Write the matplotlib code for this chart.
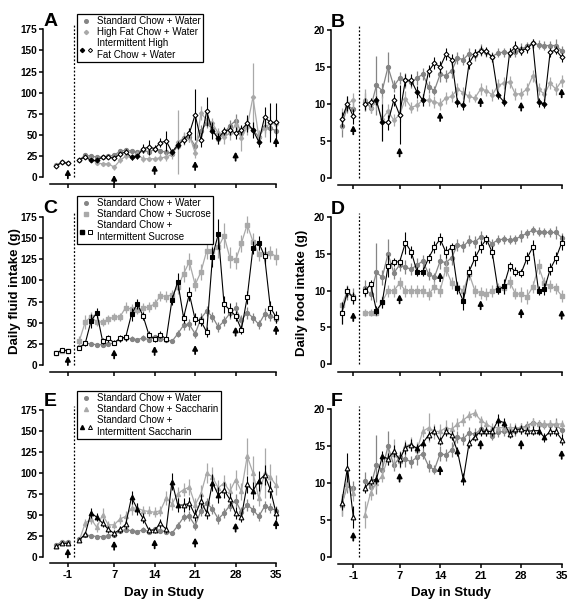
import matplotlib
matplotlib.use('Agg')
import matplotlib.pyplot as plt
from matplotlib.legend_handler import HandlerTuple
from matplotlib.lines import Line2D
import numpy as np

plt.rcParams['font.family'] = ['Liberation Sans', 'DejaVu Sans']
plt.rcParams['axes.unicode_minus'] = False

# days -3..-1 are baseline, 1..35 are the study proper
DAYS = [-3, -2, -1] + list(range(1, 36))
TICK_DAYS = [-1, 7, 14, 21, 28, 35]
ACCESS_DAYS = [3, 4, 10, 11, 17, 18, 24, 25, 31, 32]   # filled markers

# ---- fluid intake (g), left column ----
WATER_FLUID = [14, 18, 17, 21, 26, 25, 24, 24, 25, 26, 31, 32, 31, 30, 32, 30, 33,
               31, 30, 28, 37, 47, 48, 37, 55, 64, 57, 45, 52, 61, 67, 53, 62, 56,
               48, 60, 58, 55]
WATER_FLUID_ERR = [1, 2, 1, 2, 2, 2, 2, 2, 2, 2, 3, 3, 3, 2, 3, 3, 3, 3, 2, 2, 4, 5,
                   6, 5, 7, 6, 6, 6, 6, 7, 8, 6, 7, 6, 5, 7, 6, 5]

HF_FLUID = [14, 18, 17, 20, 24, 22, 17, 16, 16, 12, 20, 25, 24, 27, 22, 22, 22, 23,
            24, 27, 42, 46, 50, 29, 76, 68, 64, 52, 48, 52, 62, 46, 60, 95, 48, 58,
            64, 63]
HF_FLUID_ERR = [1, 2, 1, 2, 2, 2, 2, 2, 2, 3, 3, 3, 3, 4, 4, 3, 3, 4, 5, 5, 38, 8, 8,
                6, 8, 7, 6, 6, 8, 8, 8, 15, 10, 40, 8, 10, 8, 6]
INT_HF_FLUID = [13.8, 17.7, 16.6, 21, 24, 20, 20, 24, 24, 22.5, 27.5, 30, 23.5, 25,
                34, 35.5, 34, 41, 43, 30, 38, 44, 52, 74, 44, 78, 55, 46, 55, 56, 52,
                56, 64, 56, 42, 71, 65, 65]
INT_HF_FLUID_ERR = [1, 1, 1, 2, 2, 2, 2, 2, 2, 2, 3, 3, 3, 3, 5, 9, 4, 5, 12, 4, 5, 5,
                    6, 30, 8, 17, 10, 6, 5, 6, 7, 6, 10, 9, 6, 12, 23, 23]

SUC_FLUID = [14, 17, 17, 29, 51, 57, 51, 51, 54, 57, 57, 68, 66, 65, 67, 69, 72, 82,
             81, 83, 92, 108, 122, 95, 110, 135, 135, 139, 153, 127, 124, 144, 166,
             146, 131, 131, 133, 128]
SUC_FLUID_ERR = [1, 1, 1, 5, 8, 6, 5, 5, 5, 5, 5, 6, 6, 5, 6, 6, 6, 6, 6, 6, 8, 10,
                 10, 8, 10, 10, 10, 12, 15, 12, 10, 10, 10, 10, 8, 8, 8, 10]
INT_SUC_FLUID = [13.8, 17.7, 17, 20.5, 25.6, 52, 62, 28.4, 31.5, 26.4, 31.5, 33, 60,
                 72.5, 58, 36, 30.7, 36, 30.7, 77, 98.5, 56, 84, 54, 52, 39, 128, 155,
                 72, 65, 58, 42, 80, 138.7, 144.6, 129, 68, 56.7]
INT_SUC_FLUID_ERR = [1, 1, 1, 2, 3, 8, 6, 4, 4, 3, 4, 4, 8, 6, 5, 4, 3, 4, 3, 6, 10,
                     6, 8, 7, 6, 6, 12, 18, 10, 8, 6, 5, 8, 8, 8, 10, 8, 7]

SAC_FLUID = [13, 17, 16, 20, 40, 45, 35, 50, 38, 38, 45, 48, 58, 58, 55, 54, 53, 55,
             70, 63, 75, 80, 83, 62, 75, 100, 95, 82, 88, 78, 92, 78, 120, 100, 70,
             100, 95, 85]
SAC_FLUID_ERR = [1, 1, 1, 2, 5, 6, 5, 8, 5, 5, 6, 6, 8, 6, 6, 6, 6, 6, 8, 7, 8, 8, 10,
                 8, 10, 12, 12, 10, 10, 10, 12, 10, 22, 20, 10, 30, 15, 12]
INT_SAC_FLUID = [12.7, 16, 16, 20, 27, 52.5, 47, 40, 32.6, 27.8, 32.6, 38.6, 70.8, 57,
                 45.7, 31.8, 31.8, 39.8, 32.6, 89.5, 61.6, 61.6, 63.6, 49.7, 66.4,
                 52.5, 88.3, 73.6, 79.5, 68.4, 51.7, 47.7, 86.3, 78.7, 90.7, 97.4,
                 80.3, 51.7]
INT_SAC_FLUID_ERR = [1, 1, 1, 2, 3, 6, 5, 5, 4, 4, 4, 5, 8, 7, 6, 4, 4, 5, 4, 10, 8,
                     8, 8, 7, 8, 7, 10, 10, 10, 8, 7, 6, 10, 10, 12, 12, 10, 8]

# ---- food intake (g), right column ----
WATER_FOOD = [7, 9.7, 9.3, 10.3, 9.5, 12.5, 11.8, 15, 12.4, 13.5, 13.2, 12.9, 13.5,
              14, 12.3, 11.8, 14, 13.8, 14.5, 16.2, 16, 16.8, 16.6, 17.3, 17, 16.4,
              16.9, 17, 16.9, 17, 17.4, 17.8, 18.2, 18, 17.9, 17.9, 17.9, 17.2]
WATER_FOOD_ERR = [1.5, 1, 1, 1.2, 0.8, 4, 1, 2, 0.8, 0.8, 1, 0.8, 1, 0.8, 0.8, 0.6, 1,
                  0.8, 1, 0.8, 0.8, 0.8, 0.8, 0.8, 0.6, 0.6, 0.6, 0.6, 0.6, 0.6, 0.8,
                  0.6, 0.6, 0.6, 0.6, 0.6, 0.9, 0.6]

HF_FOOD = [8, 10, 10.5, 10.5, 9.5, 10.2, 8, 9, 7.8, 8.5, 10.7, 9.5, 9.8, 10.5, 10.5,
           10.3, 10, 10.8, 11, 12, 11.5, 11, 10.8, 12, 11.8, 11.2, 12.5, 12.8, 13,
           11.3, 11.4, 12, 13.8, 12, 11.3, 12.8, 12, 13.1]
HF_FOOD_ERR = [1.5, 1, 1, 1.5, 0.8, 1, 3, 1, 0.8, 1, 1, 0.8, 0.8, 0.8, 0.8, 0.8, 0.8,
               0.8, 0.8, 0.8, 0.8, 0.8, 0.6, 0.8, 0.8, 0.8, 0.8, 0.8, 0.8, 0.8, 0.8,
               0.8, 0.8, 0.8, 0.8, 0.8, 0.8, 0.8]
INT_HF_FOOD = [7.9, 10, 8.3, 10, 10.2, 10.5, 7.5, 7.5, 10.5, 8.5, 13.2, 13.2, 11.6,
               10.5, 14.4, 15.5, 15, 16.7, 16, 10.2, 9.8, 15.5, 16.8, 17.2, 17.1, 16.3,
               11.2, 10.3, 16.9, 17.7, 17.2, 17.5, 18.2, 10.2, 10, 17, 17.3, 16.3]
INT_HF_FOOD_ERR = [1, 1, 1, 0.8, 0.6, 0.6, 2.5, 1, 0.8, 4, 0.8, 0.8, 0.8, 0.8, 0.8,
                   0.8, 0.8, 0.8, 0.8, 0.6, 0.6, 0.8, 0.6, 0.6, 0.6, 0.6, 0.6, 0.6,
                   0.6, 0.8, 0.6, 0.6, 0.6, 0.6, 0.6, 0.6, 0.6, 0.6]

SUC_FOOD = [8, 10, 9, 7, 7, 7, 8.5, 10, 10, 11, 10, 10, 10, 10, 9.5, 10.5, 10, 13, 11,
            10.5, 10, 12.3, 10, 9.7, 9.5, 10, 10.3, 10.3, 11.2, 9.6, 9.5, 9.2, 10.5,
            13.3, 11, 10.6, 10.3, 9.3]
SUC_FOOD_ERR = [0.5, 0.8, 0.8, 0.5, 0.5, 0.5, 0.8, 0.8, 0.8, 0.8, 0.8, 0.8, 0.8, 0.8,
                0.8, 0.8, 0.8, 1, 0.8, 0.8, 0.8, 0.8, 0.8, 0.8, 0.8, 0.8, 0.8, 0.8,
                0.8, 0.8, 1, 1, 0.8, 1, 0.8, 0.8, 0.8, 0.8]
INT_SUC_FOOD = [7, 9.9, 9, 9.9, 10.9, 7.3, 8.4, 13.3, 13.9, 13.9, 16.5, 15.3, 12.6,
                12.6, 14.4, 15.9, 17, 15.2, 15.9, 10.4, 8.6, 12.6, 14.4, 15.9, 17,
                15.2, 10.1, 10.6, 13.3, 12.6, 12.4, 14.4, 15.9, 10, 10.2, 12.9, 14.4,
                16.5]
INT_SUC_FOOD_ERR = [1.5, 0.8, 0.8, 0.6, 0.6, 0.6, 0.8, 1.5, 0.6, 0.6, 1.5, 0.8, 0.6,
                    0.6, 0.6, 0.8, 0.8, 0.8, 0.6, 0.8, 1.2, 0.8, 1, 0.8, 0.6, 0.8, 0.6,
                    1, 0.6, 0.6, 0.6, 0.8, 1, 0.6, 0.8, 0.8, 0.8, 1]

SAC_FOOD = [7, 10, 8.6, 5.7, 8.7, 10, 11, 13.5, 14, 13, 15, 15.3, 14.5, 17, 17.5, 17,
            17, 17.5, 17.3, 18, 18.5, 19.2, 19.5, 18.5, 18, 17.5, 17.5, 17.5, 17.5,
            17.5, 17.5, 17.5, 18.2, 18, 18, 18, 18, 18]
SAC_FOOD_ERR = [1.5, 1, 1, 1.8, 1, 0.8, 0.8, 1, 2, 1, 0.8, 1, 1, 0.8, 2, 1, 1, 1, 1,
                0.8, 0.8, 0.6, 0.6, 0.6, 0.6, 0.6, 0.6, 0.6, 0.6, 0.6, 0.6, 0.6, 0.6,
                0.6, 0.6, 0.6, 0.6, 0.6]
INT_SAC_FOOD = [7.3, 12.1, 5.4, 9.3, 10.3, 10.5, 13.6, 13.3, 14.3, 13.2, 14.8, 15.2,
                14.7, 15.4, 16.5, 17.1, 15.7, 17, 16.5, 14.3, 10.5, 15.4, 16.3, 17, 17,
                17, 18.5, 18.2, 16.7, 17.3, 17.3, 17, 17.1, 17.1, 16.2, 17, 17, 15.9]
INT_SAC_FOOD_ERR = [1, 2, 1.5, 0.6, 0.6, 0.6, 0.8, 0.8, 0.8, 1, 0.8, 0.8, 0.6, 0.6,
                    0.6, 0.6, 0.6, 0.6, 0.6, 0.6, 0.8, 0.6, 0.6, 0.6, 0.6, 0.6, 0.8,
                    0.6, 0.6, 0.6, 0.6, 0.6, 0.6, 0.6, 0.6, 0.6, 0.6, 0.8]

# arrow tips (y value) at TICK_DAYS
ARROW_A = [9.5, 2.8, 14.6, 19.3, 30.3, 47.3]
ARROW_B = [7.1, 4.1, 8.9, 10.9, 10.3, 12.1]
ARROW_C = [10.6, 18.5, 22.5, 23.6, 45.3, 47.3]
ARROW_D = [7.1, 9.5, 12.5, 8.7, 7.6, 7.4]
ARROW_E = [9.9, 19, 20.7, 22.7, 40.6, 44.5]
ARROW_F = [3.4, 11.4, 12.4, 15.9, 15.9, 14.5]

LABELS_A = ['Standard Chow + Water', 'High Fat Chow + Water',
            'Intermittent High\nFat Chow + Water']
LABELS_C = ['Standard Chow + Water', 'Standard Chow + Sucrose',
            'Standard Chow +\nIntermittent Sucrose']
LABELS_E = ['Standard Chow + Water', 'Standard Chow + Saccharin',
            'Standard Chow +\nIntermittent Saccharin']

C_WATER = '#858585'
C_TREAT = '#a9a9a9'

W, H = 577, 609
fig = plt.figure(figsize=(W / 100, H / 100), dpi=100)


def px_axes(l, t, r, b):
    return fig.add_axes([l / W, 1 - b / H, (r - l) / W, (b - t) / H])


def draw_gray(ax, vals, errs, color, marker, ms, z):
    for sl in (slice(0, 3), slice(3, None)):
        ax.errorbar(DAYS[sl], vals[sl], yerr=errs[sl], fmt='-', marker=marker,
                    ms=ms, color=color, mfc=color, mec=color, lw=0.9,
                    elinewidth=0.9, capsize=0, zorder=z, clip_on=False)


def draw_intermittent(ax, vals, errs, marker, ms):
    for sl in (slice(0, 3), slice(3, None)):
        ax.errorbar(DAYS[sl], vals[sl], yerr=errs[sl], fmt='-', color='black',
                    lw=0.8, elinewidth=0.8, capsize=0, zorder=5, clip_on=False)
    on = [i for i, d in enumerate(DAYS) if d in ACCESS_DAYS]
    off = [i for i, d in enumerate(DAYS) if d not in ACCESS_DAYS]
    ax.plot([DAYS[i] for i in on], [vals[i] for i in on], ls='none', marker=marker,
            ms=ms, mfc='black', mec='black', mew=0.8, zorder=6, clip_on=False)
    ax.plot([DAYS[i] for i in off], [vals[i] for i in off], ls='none',
            marker=marker, ms=ms, mfc='white', mec='black', mew=0.8, zorder=6,
            clip_on=False)


def style(ax, ymax, ystep, xstart, xlabels):
    ax.set_facecolor('none')
    ax.spines[['top', 'right']].set_visible(False)
    ax.spines['left'].set_bounds(0, ymax)
    ax.spines['bottom'].set_bounds(xstart, 35)
    for s in ('left', 'bottom'):
        ax.spines[s].set_linewidth(1.1)
    ax.set_xticks(TICK_DAYS)
    ax.set_yticks(np.arange(0, ymax + 1, ystep))
    ax.tick_params(direction='out', length=3, width=1.1, pad=1)
    ax.tick_params(axis='y', labelsize=7.2)
    ax.tick_params(axis='x', labelsize=8, pad=2)
    for lab in ax.get_yticklabels():
        lab.set_fontweight('bold')
    if xlabels:
        for lab in ax.get_xticklabels():
            lab.set_fontweight('bold')
    else:
        ax.set_xticklabels([])
    ax.plot([0, 0], [0, ax.get_ylim()[1]], color='black', lw=0.9,
            ls=(0, (1.5, 1.5)), zorder=1)


def arrows(ax, tips):
    for d, y in zip(TICK_DAYS, tips):
        ax.annotate('', xy=(d, y), xytext=(0, -6.5), textcoords='offset points',
                    arrowprops=dict(arrowstyle='-|>,head_length=0.28,head_width=0.15',
                                    color='black', lw=1.3, shrinkA=0, shrinkB=0),
                    zorder=7, annotation_clip=False)


def legend(ax, labels, marker, ms, top_px):
    h1 = Line2D([], [], ls='none', marker='o', ms=2.6, color=C_WATER)
    h2 = Line2D([], [], ls='none', marker=marker, ms=ms * 0.85, color=C_TREAT)
    h3a = Line2D([], [], ls='none', marker=marker, ms=ms * 0.85, mfc='black',
                 mec='black')
    h3b = Line2D([], [], ls='none', marker=marker, ms=ms * 0.85, mfc='white',
                 mec='black', mew=0.7)
    leg = ax.legend([h1, h2, (h3a, h3b)], labels, loc='upper left',
                    bbox_to_anchor=(77 / W, 1 - top_px / H),
                    bbox_transform=fig.transFigure, borderaxespad=0,
                    fancybox=False, edgecolor='black', framealpha=1,
                    fontsize=7, handlelength=1.4, handletextpad=0.4,
                    borderpad=0.25, labelspacing=0.1,
                    handler_map={tuple: HandlerTuple(ndivide=None, pad=0.2)})
    leg.get_frame().set_linewidth(0.9)


LEFT = (43, 279, (-5.3, 35.5), -4.1)
RIGHT = (330.7, 564.6, (-4.9, 35.5), -3.6)
MS = {'D': 2.5, 's': 3.2, '^': 3.4}

panels = [
    ('A', LEFT, (25.1, 184.1), WATER_FLUID, WATER_FLUID_ERR, HF_FLUID, HF_FLUID_ERR,
     INT_HF_FLUID, INT_HF_FLUID_ERR, 'D', ARROW_A, LABELS_A, 14),
    ('B', RIGHT, (26.3, 185.1), WATER_FOOD, WATER_FOOD_ERR, HF_FOOD, HF_FOOD_ERR,
     INT_HF_FOOD, INT_HF_FOOD_ERR, 'D', ARROW_B, None, None),
    ('C', LEFT, (212.8, 371.8), WATER_FLUID, WATER_FLUID_ERR, SUC_FLUID,
     SUC_FLUID_ERR, INT_SUC_FLUID, INT_SUC_FLUID_ERR, 's', ARROW_C, LABELS_C, 196),
    ('D', RIGHT, (213.3, 371.7), WATER_FOOD, WATER_FOOD_ERR, SUC_FOOD, SUC_FOOD_ERR,
     INT_SUC_FOOD, INT_SUC_FOOD_ERR, 's', ARROW_D, None, None),
    ('E', LEFT, (405.8, 563.4), WATER_FLUID, WATER_FLUID_ERR, SAC_FLUID,
     SAC_FLUID_ERR, INT_SAC_FLUID, INT_SAC_FLUID_ERR, '^', ARROW_E, LABELS_E, 391),
    ('F', RIGHT, (405.6, 564.1), WATER_FOOD, WATER_FOOD_ERR, SAC_FOOD, SAC_FOOD_ERR,
     INT_SAC_FOOD, INT_SAC_FOOD_ERR, '^', ARROW_F, None, None),
]

for (letter, col, rows, w, we, t, te, it, ite, mk, arr, labels, leg_top) in panels:
    for s in (w, we, t, te, it, ite):
        assert len(s) == len(DAYS)
    l, r, xlim, xstart = col
    ax = px_axes(l, rows[0], r, rows[1])
    fluid = col is LEFT
    ax.set_xlim(*xlim)
    ax.set_ylim(-8, 180) if fluid else ax.set_ylim(-1, 20.5)
    draw_gray(ax, w, we, C_WATER, 'o', 2.8, 3)
    draw_gray(ax, t, te, C_TREAT, mk, MS[mk] * 0.85, 4)
    draw_intermittent(ax, it, ite, mk, MS[mk])
    arrows(ax, arr)
    style(ax, 175 if fluid else 20, 25 if fluid else 5, xstart, letter in 'EF')
    if labels:
        legend(ax, labels, mk, MS[mk], leg_top)
    fig.text((l + 0.5) / W, 1 - (rows[0] + 0.5) / H, letter, fontsize=14,
             fontweight='bold', ha='left', va='baseline')

fig.text(15 / W, 1 - 291 / H, 'Daily fluid intake (g)', rotation=90, ha='center',
         va='center', fontsize=9.5, fontweight='bold')
fig.text(302.5 / W, 1 - 293 / H, 'Daily food intake (g)', rotation=90, ha='center',
         va='center', fontsize=9.5, fontweight='bold')
fig.text(163.5 / W, 1 - 593 / H, 'Day in Study', ha='center', va='center',
         fontsize=9.5, fontweight='bold')
fig.text(451 / W, 1 - 593 / H, 'Day in Study', ha='center', va='center',
         fontsize=9.5, fontweight='bold')

fig.savefig('out.png', dpi=100)
